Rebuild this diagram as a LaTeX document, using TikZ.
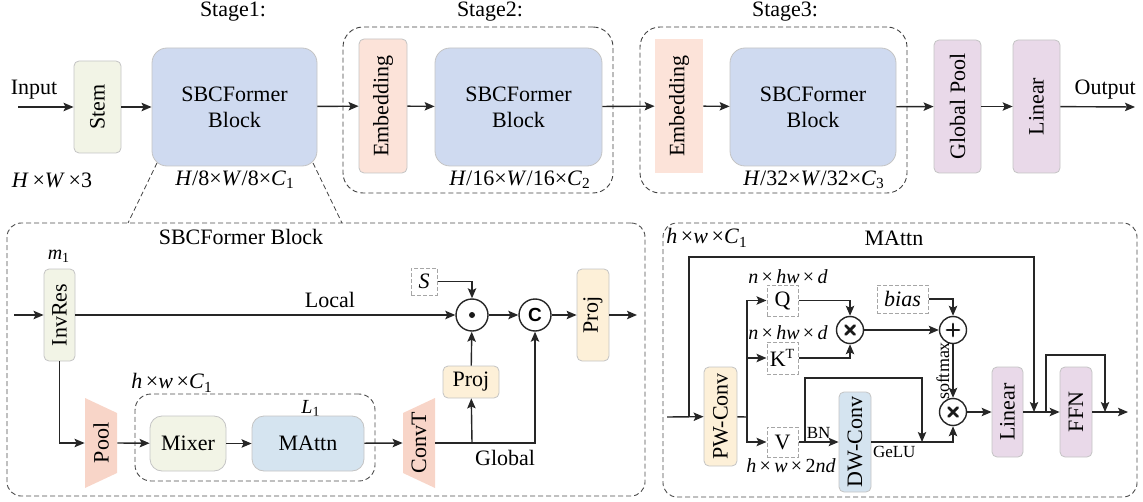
\documentclass[tikz,border=0pt]{standalone}
\usepackage{graphicx}
\usepackage{fontspec}
\setmainfont{Liberation Serif}
\newfontfamily\lsans{Liberation Sans}
\usetikzlibrary{arrows.meta}
\definecolor{cgreen}{HTML}{F2F4E6}
\definecolor{cblue}{HTML}{CFDAF0}
\definecolor{cemb}{HTML}{FCE3D9}
\definecolor{cpurple}{HTML}{E9D9E9}
\definecolor{cyellow}{HTML}{FDF0D8}
\definecolor{clblue}{HTML}{D5E4F0}
\definecolor{csalmon}{HTML}{F8D5C8}
\definecolor{cborder}{HTML}{C4C4C4}
\newcommand\bx[7]{\node[#1, minimum width={(#5-#3)*0.5pt}, minimum height={(#6-#4)*0.5pt}, inner sep=0pt] (#2) at ({(#3+#5)/2},{(#4+#6)/2}) {#7};}
\begin{document}
\begin{tikzpicture}[x=0.5pt,y=-0.5pt,
  font=\fontsize{11}{13}\selectfont,
  arr/.style={draw=black!85, line width=0.7pt, -{Stealth[length=5pt,width=4.2pt,inset=1pt]}},
  ln/.style={draw=black!85, line width=0.7pt},
  solidbox/.style={draw=cborder, line width=0.4pt, rounded corners=2.5pt, align=center},
  greenbox/.style={solidbox, fill=cgreen},
  mixbox/.style={solidbox, fill=cgreen, rounded corners=6pt},
  bluebox/.style={solidbox, fill=cblue, rounded corners=7.5pt},
  lbluebox/.style={solidbox, fill=clblue, rounded corners=6pt},
  dwbox/.style={solidbox, fill=clblue},
  embbox/.style={solidbox, fill=cemb},
  embbox2/.style={fill=cemb},
  purplebox/.style={solidbox, fill=cpurple},
  yellowbox/.style={solidbox, fill=cyellow},
  stagebox/.style={draw=black!75, dash pattern=on 2.5pt off 1.5pt, line width=0.45pt, rounded corners=10pt},
  bigbox/.style={draw=black!70, dash pattern=on 2.5pt off 1.5pt, line width=0.45pt, rounded corners=7pt},
  innerbox/.style={draw=black!70, dash pattern=on 2.5pt off 1.5pt, line width=0.45pt, rounded corners=8pt},
  smalldbox/.style={draw=gray!70, dash pattern=on 2pt off 1pt, line width=0.5pt, fill=white},
  zoomln/.style={draw=black!75, dash pattern=on 2.5pt off 1.5pt, line width=0.4pt},
  opcircle/.style={circle, draw=black!85, line width=0.7pt, minimum size=16pt, inner sep=0pt, fill=white},
  opsmall/.style={circle, draw=black!85, line width=0.7pt, minimum size=13.5pt, inner sep=0pt, fill=white},
  sym/.style={line width=1.4pt, line cap=round, draw=black!90},
  small/.style={font=\fontsize{10}{12}\selectfont},
  tiny/.style={font=\fontsize{8.5}{10}\selectfont}
]
\useasboundingbox (0,0) rectangle (1143,502);

% ---------- top row ----------
\bx{stagebox}{st2}{343}{27}{613}{193}{}
\bx{stagebox}{st3}{640}{27}{907}{193}{}
\bx{greenbox}{stem}{74}{61}{121}{153}{\rotatebox{90}{Stem}}
\bx{bluebox}{sbc1}{152}{48}{317}{166}{SBCFormer\\Block}
\bx{embbox}{emb1}{359}{39}{407}{173}{\rotatebox{90}{Embedding}}
\bx{bluebox}{sbc2}{435}{48}{602}{166}{SBCFormer\\Block}
\bx{embbox2}{emb2}{655}{39}{703}{173}{\rotatebox{90}{Embedding}}
\bx{bluebox}{sbc3}{730}{48}{896}{166}{SBCFormer\\Block}
\bx{purplebox}{gp}{934}{40}{981}{173}{\rotatebox{90}{Global Pool}}
\bx{purplebox}{lin1}{1013}{40}{1060}{173}{\rotatebox{90}{Linear}}

\node (s1) at (233,12) {Stage1:};
\node (s2) at (490,12) {Stage2:};
\node (s3) at (785,12) {Stage3:};
\node (d0) at (52,180) {\textit{H}\,×\textit{W}\,×3};
\node (d1) at (235,180) {\textit{H}/8×\textit{W}/8×\textit{C}\textsubscript{1}};
\node (d2) at (520,180) {\textit{H}/16×\textit{W}/16×\textit{C}\textsubscript{2}};
\node (d3) at (814,180) {\textit{H}/32×\textit{W}/32×\textit{C}\textsubscript{3}};

\coordinate (inp) at (18,107);
\coordinate (outp) at (1135,107);
\draw[arr] (inp) -- node[above, pos=0.29]{Input} (stem);
\draw[arr] (stem) -- (sbc1);
\draw[arr] (sbc1) -- (emb1);
\draw[arr] (emb1) -- (sbc2);
\draw[arr] (sbc2) -- (emb2);
\draw[arr] (emb2) -- (sbc3);
\draw[arr] (sbc3) -- (gp);
\draw[arr] (gp) -- (lin1);
\draw[arr] (lin1) -- node[above, pos=0.6]{Output} (outp);

\coordinate (z1a) at (157,163);
\coordinate (z1b) at (128,223);
\coordinate (z2a) at (313,163);
\coordinate (z2b) at (342,223);
\draw[zoomln] (z1a) -- (z1b);
\draw[zoomln] (z2a) -- (z2b);

% ---------- SBCFormer Block detail ----------
\bx{bigbox}{blk}{7}{223}{645}{496}{}
\node (blkt) at (241,237) {SBCFormer Block};
\bx{innerbox}{inner}{135}{394}{375}{481}{}
\node (hwc) at (172,383) {\textit{h}\,×\textit{w}\,×\textit{C}\textsubscript{1}};
\node[small] (l1) at (311,408) {\textit{L}\textsubscript{1}};
\node[small] (m1l) at (59,256) {\textit{m}\textsubscript{1}};
\bx{greenbox}{invres}{44}{269}{75}{361}{\rotatebox{90}{InvRes}}

\fill[csalmon] (85,398) -- (117,413) -- (117,473) -- (85,488) -- cycle;
\node[inner sep=0pt, minimum width=16pt, minimum height=45pt] (pool) at (101,443) {\rotatebox{90}{Pool}};
\fill[csalmon] (403,413) -- (435,398) -- (435,488) -- (403,473) -- cycle;
\node[inner sep=0pt, minimum width=16pt, minimum height=45pt] (convt) at (419,443) {\rotatebox{90}{ConvT}};

\bx{mixbox}{mixer}{150}{416}{226}{471}{Mixer}
\bx{lbluebox}{mattn}{252}{416}{364}{471}{MAttn}
\bx{smalldbox}{sbox}{411}{268}{437}{295}{\textit{S}}
\node[opcircle] (dot) at (472,315) {};
\fill[black!90] (dot.center) circle (1.5pt);
\node[opcircle, font=\lsans\bfseries\fontsize{9.5}{11}\selectfont] (cc) at (535,315) {C};
\bx{yellowbox}{projr}{577}{269}{609}{361}{\rotatebox{90}{Proj}}
\bx{yellowbox}{projb}{443}{366}{499}{398}{Proj}

\coordinate (in1) at (14,315);
\coordinate (out1) at (637,315);
\coordinate (gsplit) at (472,443);
\draw[arr] (in1) -- (invres);
\draw[arr] (invres) -- node[above, pos=0.67]{Local} (dot);
\draw[arr] (invres.south) |- (pool.west);
\draw[arr] (pool.east) -- (mixer);
\draw[arr] (mixer) -- (mattn);
\draw[arr] (mattn) -- (convt.west);
\draw[arr] (convt.east) -| node[below, pos=0.35]{Global} (cc);
\draw[arr] (gsplit) -- (projb);
\draw[arr] (projb) -- (dot);
\draw[arr] (sbox) -| (dot);
\draw[arr] (dot) -- (cc);
\draw[arr] (cc) -- (projr);
\draw[arr] (projr) -- (out1);

% ---------- MAttn detail ----------
\bx{bigbox}{mab}{663}{223}{1137}{497}{}
\node (hwc2) at (707,238) {\textit{h}\,×\textit{w}\,×\textit{C}\textsubscript{1}};
\node (mat) at (894,238) {MAttn};
\bx{yellowbox}{pw}{704}{367}{737}{466}{\rotatebox{90}{PW-Conv}}
\bx{smalldbox}{qb}{767}{285}{798}{316}{Q}
\bx{smalldbox}{kb}{767}{342}{798}{374}{K\textsuperscript{\fontsize{7}{8}\selectfont T}}
\bx{smalldbox}{vb}{767}{427}{798}{457}{V}
\node[small] (nq) at (788,277) {\textit{n}\,×\,\textit{hw}\,×\,\textit{d}};
\node[small] (nk) at (788,333) {\textit{n}\,×\,\textit{hw}\,×\,\textit{d}};
\node[small] (nv) at (791,466) {\textit{h}\,×\,\textit{w}\,×\,2\textit{nd}};
\node[opsmall] (mx1) at (850,330) {};
\draw[sym] ([shift={(-4.5,-4.5)}]mx1.center) -- ([shift={(4.5,4.5)}]mx1.center);
\draw[sym] ([shift={(-4.5,4.5)}]mx1.center) -- ([shift={(4.5,-4.5)}]mx1.center);
\bx{smalldbox}{bias}{877}{285}{928}{313}{\textit{bias}}
\node[opsmall] (pl) at (953,330) {};
\draw[sym] ([shift={(-6,0)}]pl.center) -- ([shift={(6,0)}]pl.center);
\draw[sym] ([shift={(0,-6)}]pl.center) -- ([shift={(0,6)}]pl.center);
\node[opsmall] (mx2) at (953,412) {};
\draw[sym] ([shift={(-4.5,-4.5)}]mx2.center) -- ([shift={(4.5,4.5)}]mx2.center);
\draw[sym] ([shift={(-4.5,4.5)}]mx2.center) -- ([shift={(4.5,-4.5)}]mx2.center);
\bx{dwbox}{dw}{839}{392}{871}{492}{\rotatebox{90}{DW-Conv}}
\bx{purplebox}{lin2}{992}{367}{1023}{457}{\rotatebox{90}{Linear}}
\bx{purplebox}{ffn}{1060}{367}{1092}{457}{\rotatebox{90}{FFN}}

\coordinate (in2) at (667,417);
\coordinate (sk1) at (689,417);
\coordinate (sktop) at (689,257);
\coordinate (sk2) at (1034,412);
\coordinate (br) at (747,417);
\coordinate (vsp) at (805,442);
\coordinate (vtop) at (805,378);
\coordinate (gd) at (922,442);
\coordinate (fs) at (1046,412);
\coordinate (fst) at (1046,355);
\coordinate (fe) at (1105,412);
\coordinate (out2) at (1128,412);

\draw[arr] (in2) -- (pw);
\draw[arr] (sk1) -- (sktop) -| (sk2);
\draw[ln] (pw) -- (br);
\draw[arr] (br) |- (qb);
\draw[arr] (br) |- (kb);
\draw[arr] (br) |- (vb);
\draw[arr] (qb) -| (mx1);
\draw[arr] (kb) -| (mx1);
\draw[arr] (mx1) -- (pl);
\draw[arr] (bias) -| (pl);
\draw[arr] (pl) -- node[midway, rotate=90, anchor=south, inner sep=1.5pt, font=\fontsize{9}{10}\selectfont]{softmax} (mx2);
\draw[arr] (vb) -- node[above, tiny, inner sep=1.5pt]{BN} (dw);
\draw[arr] (vsp) -- (vtop) -| (gd);
\draw[arr] (dw) -| node[below, pos=0.14, tiny, inner sep=2pt]{GeLU} (mx2);
\draw[arr] (mx2) -- (lin2);
\draw[arr] (lin2) -- (ffn);
\draw[arr] (fs) -- (fst) -| (fe);
\draw[arr] (ffn) -- (out2);
\end{tikzpicture}
\end{document}
